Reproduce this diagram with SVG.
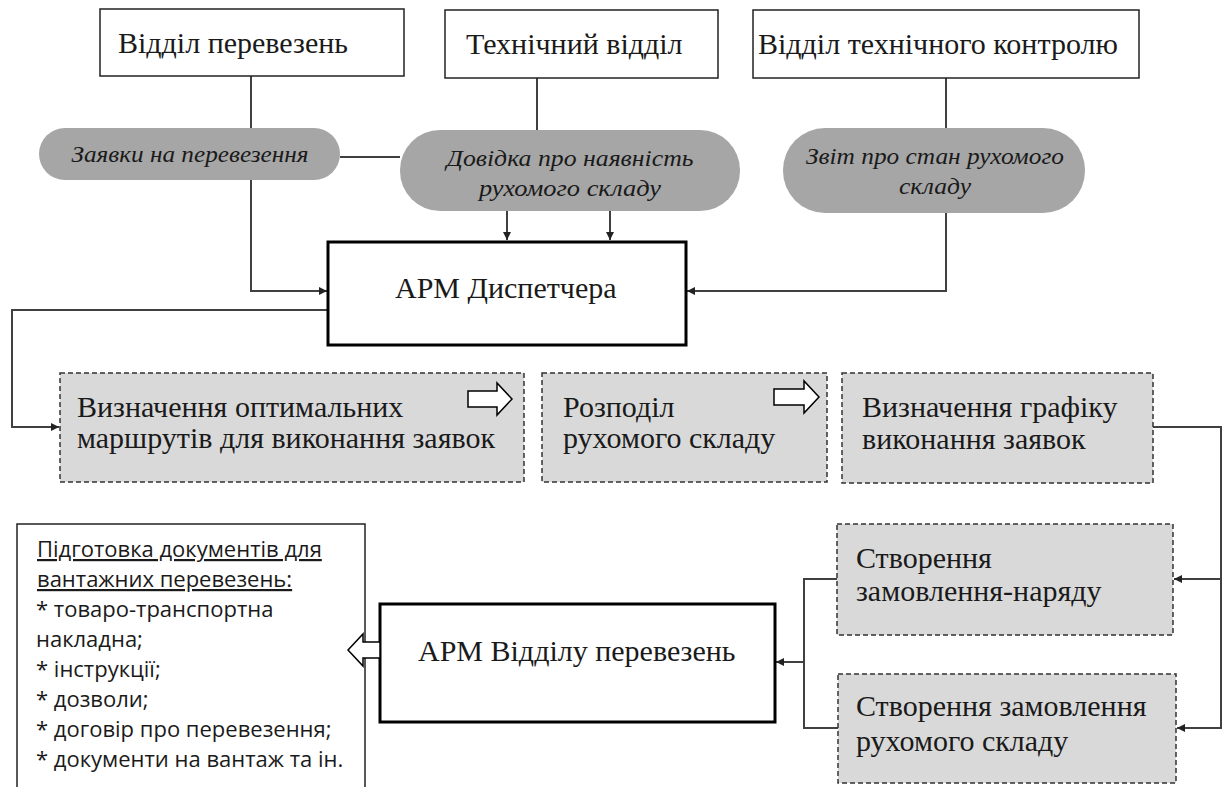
<svg xmlns="http://www.w3.org/2000/svg" width="1227" height="787" viewBox="0 0 1227 787">
<defs>
<marker id="ah" viewBox="0 0 10 10" refX="10" refY="5" markerWidth="8" markerHeight="8" markerUnits="userSpaceOnUse" orient="auto">
<path d="M0,0 L10,5 L0,10 Z" fill="#222"/>
</marker>
<style>
.bg{fill:#ffffff}
.box{fill:#ffffff;stroke:#222;stroke-width:1.5}
.bold{fill:#ffffff;stroke:#000;stroke-width:3}
.gray{fill:#d9d9d9;stroke:#333;stroke-width:1.5;stroke-dasharray:5 3}
.oval{fill:#a6a6a6;stroke:none}
.t{font-family:"Liberation Serif","Times New Roman",serif;font-size:30px;fill:#1a1a1a}
.it{font-family:"Liberation Serif","Times New Roman",serif;font-size:24px;font-style:italic;fill:#1a1a1a}
.s{font-family:"Open Sans","Liberation Sans",sans-serif;font-size:22px;fill:#1a1a1a}
.c{fill:none;stroke:#404040;stroke-width:2}
.ha{fill:#ffffff;stroke:#000;stroke-width:1.5}
</style>
</defs>
<rect class="bg" x="0" y="0" width="1227" height="787"/>

<g id="connectors">
<path class="c" d="M251,76 V291 H327" marker-end="url(#ah)"/>
<path class="c" d="M340,157 H400"/>
<path class="c" d="M537,78 V132"/>
<path class="c" d="M507,209 V240" marker-end="url(#ah)"/>
<path class="c" d="M610,209 V240" marker-end="url(#ah)"/>
<path class="c" d="M946,78 V291 H687" marker-end="url(#ah)"/>
<path class="c" d="M328,310 H12 V427 H59" marker-end="url(#ah)"/>
<path class="c" d="M1153,427 H1221 V728 H1177" marker-end="url(#ah)"/>
<path class="c" d="M1221,579 H1174" marker-end="url(#ah)"/>
<path class="c" d="M837,579 H804 V728 H838"/>
<path class="c" d="M804,662 H776" marker-end="url(#ah)"/>
</g>

<g id="n-vidil-perevezen">
<rect class="box" x="100" y="9" width="304" height="67"/>
<text class="t" x="118" y="53">Відділ перевезень</text>
</g>
<g id="n-tekhnichnyi">
<rect class="box" x="445" y="10" width="273" height="68"/>
<text class="t" x="466" y="54">Технічний відділ</text>
</g>
<g id="n-vtk">
<rect class="box" x="753" y="10" width="386" height="68"/>
<text class="t" x="758" y="54">Відділ технічного контролю</text>
</g>

<g id="n-zaiavky">
<rect class="oval" x="39" y="128" width="301" height="52" rx="26" ry="26"/>
<text class="it" x="190" y="162" text-anchor="middle" textLength="237" lengthAdjust="spacingAndGlyphs">Заявки на перевезення</text>
</g>
<g id="n-dovidka">
<rect class="oval" x="400" y="130" width="340" height="81" rx="40" ry="40"/>
<text class="it" x="570" y="166" text-anchor="middle" textLength="247" lengthAdjust="spacingAndGlyphs">Довідка про наявність</text>
<text class="it" x="570" y="196" text-anchor="middle" textLength="182" lengthAdjust="spacingAndGlyphs">рухомого складу</text>
</g>
<g id="n-zvit">
<rect class="oval" x="783" y="128" width="302" height="85" rx="42" ry="42"/>
<text class="it" x="935" y="164" text-anchor="middle" textLength="258" lengthAdjust="spacingAndGlyphs">Звіт про стан рухомого</text>
<text class="it" x="935" y="194" text-anchor="middle" textLength="72" lengthAdjust="spacingAndGlyphs">складу</text>
</g>

<g id="n-arm-dyspetchera">
<rect class="bold" x="328" y="242" width="358" height="103"/>
<text class="t" x="395" y="298">АРМ Диспетчера</text>
</g>

<g id="n-marshruty">
<rect class="gray" x="60" y="373" width="464" height="109"/>
<text class="t" x="77" y="417">Визначення оптимальних</text>
<text class="t" x="77" y="448">маршрутів для виконання заявок</text>
<polygon class="ha" points="468,391 497,391 497,383 512,399 497,415 497,407 468,407"/>
</g>
<g id="n-rozpodil">
<rect class="gray" x="542" y="373" width="285" height="109"/>
<text class="t" x="563" y="417">Розподіл</text>
<text class="t" x="563" y="448">рухомого складу</text>
<polygon class="ha" points="774,389 804,389 804,381 819,397 804,413 804,405 774,405"/>
</g>
<g id="n-hrafik">
<rect class="gray" x="842" y="373" width="311" height="110"/>
<text class="t" x="862" y="417">Визначення графіку</text>
<text class="t" x="862" y="449">виконання заявок</text>
</g>

<g id="n-naryad">
<rect class="gray" x="837" y="524" width="336" height="111"/>
<text class="t" x="856" y="568">Створення</text>
<text class="t" x="856" y="601">замовлення-наряду</text>
</g>
<g id="n-zamovlennia">
<rect class="gray" x="838" y="674" width="338" height="109"/>
<text class="t" x="856" y="716">Створення замовлення</text>
<text class="t" x="856" y="751">рухомого складу</text>
</g>

<g id="n-dokumenty">
<rect class="box" x="17" y="524" width="348" height="280"/>
<text class="s" x="37" y="557" text-decoration="underline">Підготовка документів для </text>
<text class="s" x="37" y="587" text-decoration="underline">вантажних перевезень:</text>
<text class="s" x="36" y="617">* товаро-транспортна</text>
<text class="s" x="36" y="647">накладна;</text>
<text class="s" x="36" y="677">* інструкції;</text>
<text class="s" x="36" y="707">* дозволи;</text>
<text class="s" x="36" y="737">* договір про  перевезення;</text>
<text class="s" x="36" y="767">* документи на вантаж та ін.</text>
</g>

<g id="n-arm-viddilu">
<rect class="bold" x="380" y="604" width="395" height="118"/>
<text class="t" x="418" y="661">АРМ Відділу перевезень</text>
<polygon class="ha" points="348,650 363,634 363,642 380,642 380,658 363,658 363,666"/>
</g>
</svg>
